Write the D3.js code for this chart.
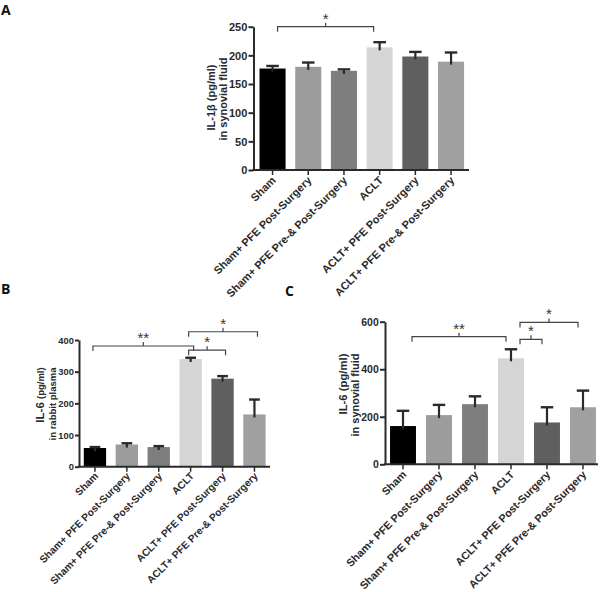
<!DOCTYPE html>
<html>
<head>
<meta charset="utf-8">
<script src="https://cdn.jsdelivr.net/npm/d3@7"></script>
<style>
  html, body { margin: 0; padding: 0; background: #fff; }
  svg { display: block; }
  text { font-family: "Liberation Sans", Arial, sans-serif; }
</style>
</head>
<body>
<svg id="chart" width="601" height="592"></svg>
<script>
// ---------- data ----------
const categories = [
  "Sham",
  "Sham+ PFE Post-Surgery",
  "Sham+ PFE Pre-& Post-Surgery",
  "ACLT",
  "ACLT+ PFE Post-Surgery",
  "ACLT+ PFE Pre-& Post-Surgery"
];
const barColors = ["#000000", "#9c9c9c", "#7e7e7e", "#d5d5d5", "#5f5f5f", "#a0a0a0"];

// Panel A: IL-1β in synovial fluid
const il1bMean = [177, 180, 173, 214, 198, 189];
const il1bErr  = [4.5, 7.5, 2.5, 9, 8, 16];
const ticksA   = [0, 50, 100, 150, 200, 250];

// Panel B: IL-6 in rabbit plasma
const il6PlasmaMean = [59, 70, 62, 340, 278, 165];
const il6PlasmaErr  = [3, 4, 3, 4, 8, 47];
const ticksB        = [0, 100, 200, 300, 400];

// Panel C: IL-6 in synovial fluid
const il6SynMean = [161, 207, 253, 446, 176, 240];
const il6SynErr  = [64, 43, 33, 38, 64, 70];
const ticksC     = [0, 200, 400, 600];

// significance brackets: [fromIndex, toIndex, yValue, label]
const sigA = [[0, 3, 250, "*"]];
const sigB = [[0, 3, 381, "**"], [3, 4, 368, "*"], [3, 5, 426, "*"]];
const sigC = [[0, 3, 537, "**"], [3, 4, 526, "*"], [3, 5, 597, "*"]];

// ---------- drawing ----------
const svg = d3.select("#chart");
const ink = "#2a2a2a";

function panel(cfg) {
  const g = svg.append("g");
  const x = d3.scaleBand().domain(categories)
    .range([cfg.bandStart, cfg.bandStart + 6 * cfg.step])
    .paddingInner(cfg.pad).paddingOuter(cfg.pad / 2);
  const y = d3.scaleLinear().domain(cfg.domain).range([cfg.yBottom, cfg.yTop]);
  const bw = x.bandwidth();

  // bars
  g.selectAll("rect.bar").data(categories).join("rect")
    .attr("x", d => x(d)).attr("width", bw)
    .attr("y", (d, i) => y(cfg.mean[i]))
    .attr("height", (d, i) => y(0) - y(cfg.mean[i]))
    .attr("fill", (d, i) => barColors[i]);

  // error bars
  const capW = bw * 0.48;
  categories.forEach((d, i) => {
    const cx = x(d) + bw / 2;
    g.append("line").attr("x1", cx).attr("x2", cx)
      .attr("y1", y(cfg.mean[i]) + 3).attr("y2", y(cfg.mean[i] + cfg.err[i]))
      .attr("stroke", ink).attr("stroke-width", 2.2);
    g.append("line").attr("x1", cx - capW / 2).attr("x2", cx + capW / 2)
      .attr("y1", y(cfg.mean[i] + cfg.err[i])).attr("y2", y(cfg.mean[i] + cfg.err[i]))
      .attr("stroke", ink).attr("stroke-width", 2.4);
  });

  // y axis
  const yAxis = d3.axisLeft(y).tickValues(cfg.ticks).tickSize(cfg.tickLen).tickSizeOuter(0).tickPadding(1.2);
  const ya = g.append("g").attr("transform", `translate(${cfg.axisX},0)`).call(yAxis);
  ya.select(".domain").attr("stroke", ink).attr("stroke-width", 2);
  ya.selectAll(".tick line").attr("stroke", ink).attr("stroke-width", 2);
  ya.selectAll(".tick text").attr("fill", ink).style("font-size", cfg.tickSize + "px").style("font-weight", "bold")
    .attr("dy", "0.34em");

  // x axis
  g.append("line").attr("x1", cfg.axisX - 1).attr("x2", cfg.axisEnd)
    .attr("y1", y(0)).attr("y2", y(0)).attr("stroke", ink).attr("stroke-width", 2);
  categories.forEach(d => {
    const cx = x(d) + bw / 2;
    g.append("line").attr("x1", cx).attr("x2", cx).attr("y1", y(0)).attr("y2", y(0) + 5)
      .attr("stroke", ink).attr("stroke-width", 1.5);
    g.append("text")
      .attr("transform", `translate(${cx + cfg.lblDx},${y(0) + cfg.lblDy}) rotate(-45)`)
      .attr("text-anchor", "end")
      .attr("fill", ink)
      .style("font-size", cfg.lblSize + "px").style("font-weight", "bold")
      .text(d);
  });

  // y labels
  cfg.yLabels.forEach(l => {
    const t = g.append("text")
      .attr("transform", `translate(${cfg.axisX + l.dx},${l.cy}) rotate(-90)`)
      .attr("text-anchor", "middle").attr("dominant-baseline", "central")
      .attr("fill", ink).style("font-weight", "bold");
    l.parts.forEach(p => t.append("tspan").style("font-size", p[1] + "px").text(p[0]));
  });

  // significance brackets
  cfg.sig.forEach(s => {
    const xa = x(categories[s[0]]) + bw / 2 + cfg.inset[0];
    const xb = x(categories[s[1]]) + bw / 2 + cfg.inset[1];
    const yy = y(s[2]);
    const mid = (xa + xb) / 2;
    g.append("path")
      .attr("d", `M${xa},${yy + 5}V${yy}H${xb}V${yy + 5}M${mid},${yy}V${yy - 4}`)
      .attr("fill", "none").attr("stroke", "#444").attr("stroke-width", 1.2);
    g.append("text").attr("x", mid).attr("y", yy - 3)
      .attr("text-anchor", "middle").attr("fill", "#333")
      .style("font-size", "15px").text(s[3]);
  });

  // panel letter
  g.append("text").attr("x", cfg.letter[0]).attr("y", cfg.letter[1])
    .attr("fill", "#111").style("font-size", "14px").style("font-weight", "bold")
    .style("font-family", "'Open Sans', 'DejaVu Sans', sans-serif").text(cfg.name);
}

panel({
  name: "A", letter: [1, 15],
  mean: il1bMean, err: il1bErr, ticks: ticksA, sig: sigA,
  domain: [0, 250], yBottom: 170, yTop: 26.7,
  axisX: 253.5, axisEnd: 469, bandStart: 254.7, step: 35.7, pad: 0.27,
  lblDx: 4, lblDy: 11, lblSize: 11, tickSize: 11, tickLen: 5, inset: [5, -6],
  yLabels: [
    { dx: -42.5, cy: 97.5, parts: [["IL-1β (pg/ml)", 11]] },
    { dx: -30.5, cy: 99, parts: [["in synovial fluid", 11]] }
  ]
});

panel({
  name: "B", letter: [1, 294],
  mean: il6PlasmaMean, err: il6PlasmaErr, ticks: ticksB, sig: sigB,
  domain: [0, 400], yBottom: 466.7, yTop: 340,
  axisX: 79, axisEnd: 270, bandStart: 79, step: 31.9, pad: 0.3,
  lblDx: 4, lblDy: 10, lblSize: 10.2, tickSize: 9.3, tickLen: 4, inset: [-2, 3],
  yLabels: [
    { dx: -39.5, cy: 395, parts: [["IL-6 ", 11.5], ["(pg/ml)", 9.5]] },
    { dx: -27, cy: 404, parts: [["in rabbit plasma", 9.5]] }
  ]
});

panel({
  name: "C", letter: [285, 296],
  mean: il6SynMean, err: il6SynErr, ticks: ticksC, sig: sigC,
  domain: [0, 600], yBottom: 464.3, yTop: 321.7,
  axisX: 385, axisEnd: 598, bandStart: 385, step: 36, pad: 0.28,
  lblDx: 4, lblDy: 11, lblSize: 10.8, tickSize: 10.5, tickLen: 5, inset: [9, -5],
  yLabels: [
    { dx: -42, cy: 384, parts: [["IL-6 (pg/ml)", 11.3]] },
    { dx: -30, cy: 395, parts: [["in synovial fluid", 11]] }
  ]
});
</script>
</body>
</html>
